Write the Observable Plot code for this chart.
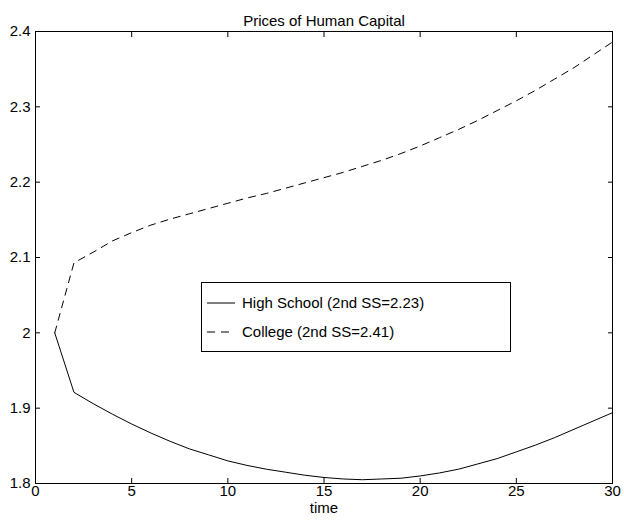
<!DOCTYPE html>
<html>
<head>
<meta charset="utf-8">
<script src="https://cdn.jsdelivr.net/npm/d3@7"></script>
<script src="https://cdn.jsdelivr.net/npm/@observablehq/plot@0.6"></script>
<style>
  html, body { margin: 0; padding: 0; background: #fff; }
  #wrap { position: relative; width: 624px; height: 521px; font-family: "Liberation Sans", Arial, Helvetica, sans-serif; }
  #legend { position: absolute; left: 201px; top: 282px; width: 310px; height: 70px; border: 1px solid #000; background: #fff; box-sizing: border-box; }
  #legend svg { position: absolute; left: 0; top: 0; }
</style>
</head>
<body>
<div id="wrap"></div>
<script>
// ---- data ----
const time = [1, 2, 3, 4, 5, 6, 7, 8, 9, 10, 11, 12, 13, 14, 15, 16, 17, 18, 19, 20, 21, 22, 23, 24, 25, 26, 27, 28, 29, 30];
const highSchool = [2.000, 1.921, 1.906, 1.892, 1.879, 1.867, 1.856, 1.846, 1.838, 1.830, 1.824, 1.819, 1.815, 1.811, 1.808, 1.806, 1.805, 1.806, 1.807, 1.810, 1.814, 1.819, 1.826, 1.833, 1.842, 1.851, 1.861, 1.872, 1.883, 1.894];
const college = [2.000, 2.093, 2.107, 2.122, 2.133, 2.143, 2.151, 2.158, 2.165, 2.172, 2.179, 2.185, 2.192, 2.199, 2.206, 2.213, 2.221, 2.229, 2.238, 2.248, 2.259, 2.270, 2.282, 2.295, 2.308, 2.322, 2.337, 2.352, 2.369, 2.386];
const seriesNames = ["High School (2nd SS=2.23)", "College (2nd SS=2.41)"];
const xTicks = [0, 5, 10, 15, 20, 25, 30];
const yTicks = [1.8, 1.9, 2.0, 2.1, 2.2, 2.3, 2.4];
const yTickLabels = ["1.8", "1.9", "2", "2.1", "2.2", "2.3", "2.4"];
const title = "Prices of Human Capital";
const xLabel = "time";

// ---- table ----
const hsRows = time.map((t, i) => ({t, v: highSchool[i]}));
const colRows = time.map((t, i) => ({t, v: college[i]}));
const DASH = "7,6";

const chart = Plot.plot({
  width: 624,
  height: 521,
  marginLeft: 35,
  marginRight: 12,
  marginTop: 31,
  marginBottom: 38,
  x: {domain: [0, 30]},
  y: {domain: [1.8, 2.4]},
  style: {fontFamily: "'Liberation Sans', Arial, Helvetica, sans-serif", fontSize: "15px", color: "#000", background: "#fff", overflow: "visible"},
  marks: [
    Plot.frame({stroke: "#000", strokeWidth: 1}),
    // tick labels
    Plot.axisX(xTicks, {anchor: "bottom", tickSize: 0, tickPadding: 2, tickFormat: d => String(d), label: null}),
    Plot.axisY(yTicks, {anchor: "left", tickSize: 0, tickPadding: 5, tickFormat: d => yTickLabels[yTicks.indexOf(d)], label: null}),
    // inward ticks on all four sides
    Plot.axisX(xTicks, {anchor: "bottom", tickSize: 5, dy: -5, tickFormat: () => "", label: null, stroke: "#000"}),
    Plot.axisX(xTicks, {anchor: "top", tickSize: 5, dy: 5, tickFormat: () => "", label: null, stroke: "#000"}),
    Plot.axisY(yTicks, {anchor: "left", tickSize: 5, dx: 5, tickFormat: () => "", label: null, stroke: "#000"}),
    Plot.axisY(yTicks, {anchor: "right", tickSize: 5, dx: -5, tickFormat: () => "", label: null, stroke: "#000"}),
    // series
    Plot.line(hsRows, {x: "t", y: "v", stroke: "#000", strokeWidth: 1}),
    Plot.line(colRows, {x: "t", y: "v", stroke: "#000", strokeWidth: 1, strokeDasharray: DASH}),
    // title & x label
    Plot.text([title], {frameAnchor: "top", dy: -16, text: d => d, fill: "#000", fontSize: 15}),
    Plot.text([xLabel], {frameAnchor: "bottom", dy: 29, text: d => d, fill: "#000", fontSize: 15})
  ]
});

const wrap = document.getElementById("wrap");
wrap.appendChild(chart);

// ---- legend ----
const legend = document.createElement("div");
legend.id = "legend";
const ns = "http://www.w3.org/2000/svg";
const lsvg = document.createElementNS(ns, "svg");
lsvg.setAttribute("width", 308);
lsvg.setAttribute("height", 68);
seriesNames.forEach((name, i) => {
  const cy = 20 + i * 29;
  const ln = document.createElementNS(ns, "line");
  ln.setAttribute("x1", 5); ln.setAttribute("x2", 33);
  ln.setAttribute("y1", cy); ln.setAttribute("y2", cy);
  ln.setAttribute("stroke", "#000"); ln.setAttribute("stroke-width", 1);
  if (i === 1) ln.setAttribute("stroke-dasharray", "8,6");
  lsvg.appendChild(ln);
  const tx = document.createElementNS(ns, "text");
  tx.setAttribute("x", 40); tx.setAttribute("y", cy);
  tx.setAttribute("dy", "0.35em");
  tx.setAttribute("font-size", 15);
  tx.setAttribute("font-family", "'Liberation Sans', Arial, Helvetica, sans-serif");
  tx.textContent = name;
  lsvg.appendChild(tx);
});
legend.appendChild(lsvg);
wrap.appendChild(legend);
</script>
</body>
</html>
